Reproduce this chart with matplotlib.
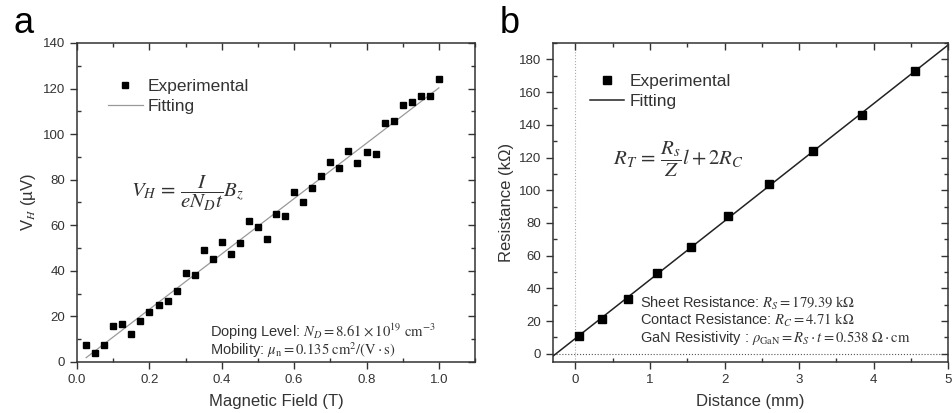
import matplotlib
matplotlib.use("Agg")
import matplotlib.pyplot as plt
from matplotlib.ticker import MultipleLocator
from matplotlib.lines import Line2D

plt.rcParams['font.family'] = ['Liberation Sans', 'DejaVu Sans']
plt.rcParams['mathtext.fontset'] = 'stix'

# Panel a: Hall voltage vs magnetic field
field = [0.025, 0.05, 0.075, 0.1, 0.125, 0.15, 0.175, 0.2, 0.225, 0.25,
         0.275, 0.3, 0.325, 0.35, 0.375, 0.4, 0.425, 0.45, 0.475, 0.5,
         0.525, 0.55, 0.575, 0.6, 0.625, 0.65, 0.675, 0.7, 0.725, 0.75,
         0.775, 0.8, 0.825, 0.85, 0.875, 0.9, 0.925, 0.95, 0.975, 1.0]
hall_v = [7.3, 4.1, 7.3, 15.8, 16.6, 12.3, 18.1, 21.8, 25.0, 26.9,
          31.1, 39.0, 38.2, 49.3, 45.1, 52.6, 47.2, 52.3, 62.0, 59.3,
          54.0, 65.1, 63.9, 74.7, 70.1, 76.4, 81.5, 87.9, 85.3, 92.7,
          87.3, 92.1, 91.2, 104.8, 105.8, 112.6, 114.3, 116.6, 116.6, 124.1]
hall_fit_x = [0.025, 1.0]
hall_fit_y = [1.9, 120.3]

# Panel b: TLM resistance vs distance
distance = [0.045, 0.35, 0.70, 1.10, 1.55, 2.04, 2.60, 3.19, 3.84, 4.55]
resistance = [11.0, 21.2, 33.8, 49.1, 65.4, 84.3, 103.6, 123.8, 146.0, 172.9]
tlm_fit_x = [-0.3, 5.05]
tlm_fit_y = [-1.34, 190.6]

ink = '#333333'

fig = plt.figure(figsize=(9.52, 4.13), dpi=100)
ax1 = fig.add_axes([0.081, 0.1235, 0.418, 0.7724])
ax2 = fig.add_axes([0.581, 0.1235, 0.415, 0.7724])


def style_axes(ax, xmaj, xmin, ymaj, ymin):
    ax.xaxis.set_major_locator(MultipleLocator(xmaj))
    ax.xaxis.set_minor_locator(MultipleLocator(xmin))
    ax.yaxis.set_major_locator(MultipleLocator(ymaj))
    ax.yaxis.set_minor_locator(MultipleLocator(ymin))
    ax.tick_params(which='major', direction='out', length=5, width=1.0,
                   color=ink, labelsize=9.5, labelcolor=ink)
    ax.tick_params(which='minor', direction='in', length=3, width=1.0, color=ink)
    for s in ax.spines.values():
        s.set_linewidth(1.1)
        s.set_color(ink)
    # overlay axes just for the inward ticks on top and right
    ov = fig.add_axes(ax.get_position(), sharex=ax, sharey=ax, frameon=False)
    ov.patch.set_visible(False)
    ov.tick_params(which='both', direction='in', color=ink, width=1.0,
                   left=False, bottom=False, top=True, right=True,
                   labelleft=False, labelbottom=False)
    ov.tick_params(which='major', length=5)
    ov.tick_params(which='minor', length=3)


# ---- panel a
ax1.plot(hall_fit_x, hall_fit_y, color='#999999', lw=0.9, zorder=2)
ax1.plot(field, hall_v, 's', color='black', ms=5, zorder=3)
ax1.set_xlim(0, 1.1)
ax1.set_ylim(0, 140)
style_axes(ax1, 0.2, 0.1, 20, 10)
ax1.set_xlabel('Magnetic Field (T)', fontsize=12, color=ink, labelpad=6)
ax1.set_ylabel(r'V$_{\mathit{H}}$ (µV)', fontsize=12, color=ink, labelpad=4)

h1 = [Line2D([], [], ls='none', marker='s', color='black', ms=5),
      Line2D([], [], color='#999999', lw=0.9)]
ax1.legend(h1, ['Experimental', 'Fitting'], loc='upper left',
           bbox_to_anchor=(0.06, 0.91), frameon=False, fontsize=12.5,
           handlelength=2.0, handletextpad=0.3, labelspacing=0.3,
           borderaxespad=0, labelcolor=ink)
ax1.text(0.135, 0.53, r'$V_H\,=\,\dfrac{I}{eN_Dt}B_z$', transform=ax1.transAxes,
         fontsize=15, color=ink, va='center')
ax1.text(0.335, 0.095, r'Doping Level: $N_D = 8.61\times10^{19}\ \mathrm{cm}^{-3}$',
         transform=ax1.transAxes, fontsize=10.5, color=ink, va='center')
ax1.text(0.335, 0.037, r'Mobility: $\mu_\mathrm{n} = 0.135\ \mathrm{cm}^2/(\mathrm{V}\cdot\mathrm{s})$',
         transform=ax1.transAxes, fontsize=10.5, color=ink, va='center')

# ---- panel b
ax2.axvline(0, color='#aaaaaa', lw=0.8, ls=':', zorder=1)
ax2.axhline(0, color='#555555', lw=0.8, ls=':', zorder=1)
ax2.plot(tlm_fit_x, tlm_fit_y, color='#222222', lw=1.1, zorder=2)
ax2.plot(distance, resistance, 's', color='black', ms=5.5, zorder=3)
ax2.set_xlim(-0.3, 5)
ax2.set_ylim(-5, 190)
style_axes(ax2, 1, 0.5, 20, 10)
ax2.set_xlabel('Distance (mm)', fontsize=12, color=ink, labelpad=6)
ax2.set_ylabel('Resistance (kΩ)', fontsize=12, color=ink, labelpad=4)

h2 = [Line2D([], [], ls='none', marker='s', color='black', ms=5.5),
      Line2D([], [], color='#222222', lw=1.1)]
ax2.legend(h2, ['Experimental', 'Fitting'], loc='upper left',
           bbox_to_anchor=(0.075, 0.925), frameon=False, fontsize=12.5,
           handlelength=2.0, handletextpad=0.3, labelspacing=0.3,
           borderaxespad=0, labelcolor=ink)
ax2.text(0.152, 0.635, r'$R_T\,=\,\dfrac{R_s}{Z}l + 2R_C$', transform=ax2.transAxes,
         fontsize=15, color=ink, va='center')
ax2.text(0.22, 0.185, r'Sheet Resistance: $R_S = 179.39\ \mathrm{k\Omega}$',
         transform=ax2.transAxes, fontsize=10.5, color=ink, va='center')
ax2.text(0.22, 0.13, r'Contact Resistance: $R_C = 4.71\ \mathrm{k\Omega}$',
         transform=ax2.transAxes, fontsize=10.5, color=ink, va='center')
ax2.text(0.22, 0.075, r'GaN Resistivity : $\rho_\mathrm{GaN} = R_S\cdot t = 0.538\ \Omega\cdot\mathrm{cm}$',
         transform=ax2.transAxes, fontsize=10.5, color=ink, va='center')

fig.text(0.014, 0.985, 'a', fontsize=26, va='top', color='black')
fig.text(0.525, 0.985, 'b', fontsize=26, va='top', color='black')

fig.savefig('out.png', dpi=100)
